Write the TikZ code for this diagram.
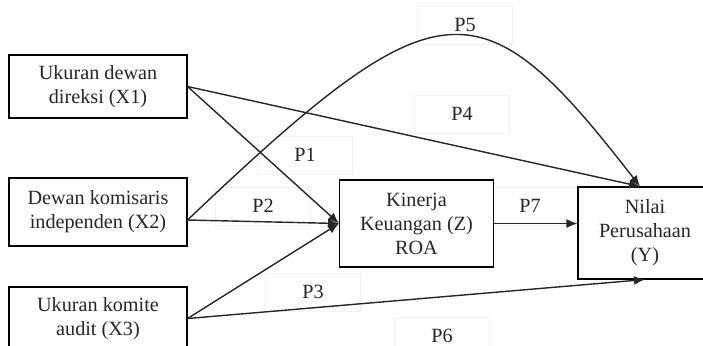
\documentclass[tikz,border=0pt]{standalone}
\usepackage{fontspec}
\setmainfont{Liberation Serif}
\usetikzlibrary{arrows.meta, positioning, calc}
\tikzset{
  % --- Kotak variabel ---------------------------------------
  varbox/.style={draw, line width=0.6pt, fill=white, align=center,
    font=\fontsize{11.5}{13.6}\selectfont, text=black!85,
    minimum width=35.6mm, minimum height=12.6mm},
  % --- Panah jalur ------------------------------------------
  jalur/.style={-{Latex[length=2.2mm, width=1.8mm]}, line width=0.8pt,
    black!85},
  plbl/.style={draw=black!5, font=\fontsize{11.5}{13.6}\selectfont,
    text=black!85, minimum width=19mm, minimum height=7.6mm}
}
\begin{document}
\begin{tikzpicture}[x=0.2mm, y=-0.2mm]
  \useasboundingbox (0,0) rectangle (703,345);

  % ---------- Label jalur ----------
  \node[plbl] (l5) at (465,25) {P5};
  \node[plbl] (l4) at (462,114) {P4};
  \node[plbl] (l1) at (305,155) {P1};
  \node[plbl] (l2) at (263,206) {P2};
  \node[plbl] (l7) at (530,206) {P7};
  \node[plbl] (l3) at (313,292) {P3};
  \node[plbl] (l6) at (442,336) {P6};

  % ---------- Variabel independen ----------
  \node[varbox] (x1) at (98,86.5) {Ukuran dewan\\direksi (X1)};
  \node[varbox, minimum height=13.6mm] (x2) at (98,212)
    {Dewan komisaris\\independen (X2)};
  \node[varbox] (x3) at (98,318.5) {Ukuran komite\\audit (X3)};

  % ---------- Intervening dan dependen ----------
  \node[varbox, minimum width=30.8mm, minimum height=17.4mm] (z)
    at (416.5,223.5) {Kinerja\\Keuangan (Z)\\ROA};
  \node[varbox, minimum width=26.8mm, minimum height=18.4mm] (y)
    at (645,233) {Nilai\\Perusahaan\\(Y)};

  % ---------- Jalur ----------
  \draw[jalur] (x1.east) -- (z.west);
  \draw[jalur] ([yshift=-1.6mm]x2.east) -- (z.west);
  \draw[jalur] (x3.east) -- (z.west);
  \draw[jalur] (x1.east) -- ([xshift=-1mm]y.north);
  \draw[jalur] ([yshift=-1.6mm]x2.east) .. controls (440,-20) and (480,-20)
    .. ([xshift=-1mm]y.north);
  \draw[jalur] (x3.east) -- (y.south);
  \draw[jalur] (z.east) -- (z.east -| y.west);

\end{tikzpicture}
\end{document}
